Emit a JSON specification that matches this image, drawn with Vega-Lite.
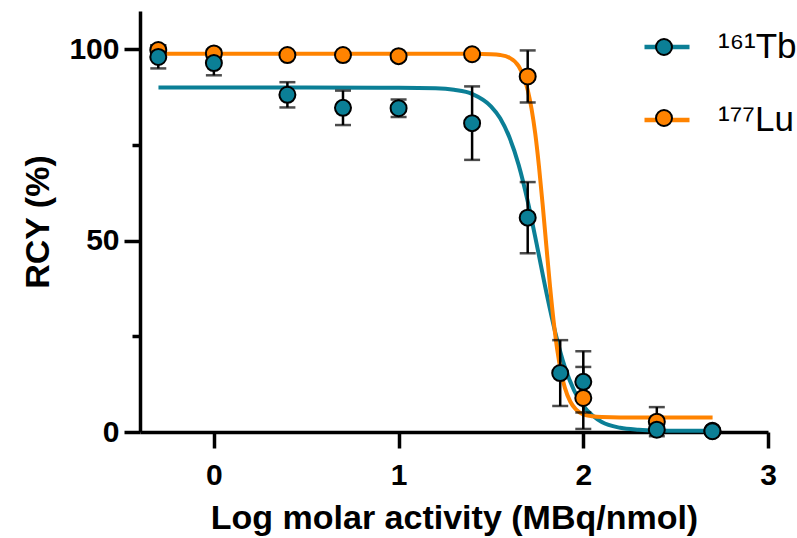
{
  "$schema": "https://vega.github.io/schema/vega-lite/v6.json",
  "autosize": "none",
  "width": 628,
  "height": 421,
  "padding": {"left": 140, "top": 11, "right": 29, "bottom": 106},
  "background": "white",
  "config": {
    "font": "Liberation Sans",
    "view": {"stroke": null},
    "axis": {"grid": false, "domainColor": "black", "tickColor": "black", "labelColor": "black", "titleColor": "black"}
  },
  "datasets": {
    "curves": [
      {"series": "¹⁶¹Tb", "x": -0.3, "y": 90.0},
      {"series": "¹⁶¹Tb", "x": 0.5, "y": 90.0},
      {"series": "¹⁶¹Tb", "x": 1.0, "y": 89.95},
      {"series": "¹⁶¹Tb", "x": 1.2, "y": 89.8},
      {"series": "¹⁶¹Tb", "x": 1.3, "y": 89.4},
      {"series": "¹⁶¹Tb", "x": 1.4, "y": 88.3},
      {"series": "¹⁶¹Tb", "x": 1.5, "y": 85.1},
      {"series": "¹⁶¹Tb", "x": 1.55, "y": 82.0},
      {"series": "¹⁶¹Tb", "x": 1.6, "y": 77.0},
      {"series": "¹⁶¹Tb", "x": 1.65, "y": 69.8},
      {"series": "¹⁶¹Tb", "x": 1.7, "y": 60.1},
      {"series": "¹⁶¹Tb", "x": 1.75, "y": 48.5},
      {"series": "¹⁶¹Tb", "x": 1.8, "y": 36.5},
      {"series": "¹⁶¹Tb", "x": 1.85, "y": 25.7},
      {"series": "¹⁶¹Tb", "x": 1.9, "y": 17.0},
      {"series": "¹⁶¹Tb", "x": 1.95, "y": 10.9},
      {"series": "¹⁶¹Tb", "x": 2.0, "y": 6.8},
      {"series": "¹⁶¹Tb", "x": 2.05, "y": 4.3},
      {"series": "¹⁶¹Tb", "x": 2.1, "y": 2.6},
      {"series": "¹⁶¹Tb", "x": 2.2, "y": 1.1},
      {"series": "¹⁶¹Tb", "x": 2.3, "y": 0.6},
      {"series": "¹⁶¹Tb", "x": 2.4, "y": 0.4},
      {"series": "¹⁶¹Tb", "x": 2.55, "y": 0.32},
      {"series": "¹⁶¹Tb", "x": 2.7, "y": 0.3},
      {"series": "¹⁷⁷Lu", "x": -0.3, "y": 98.8},
      {"series": "¹⁷⁷Lu", "x": 1.4, "y": 98.8},
      {"series": "¹⁷⁷Lu", "x": 1.5, "y": 98.7},
      {"series": "¹⁷⁷Lu", "x": 1.55, "y": 98.5},
      {"series": "¹⁷⁷Lu", "x": 1.6, "y": 97.8},
      {"series": "¹⁷⁷Lu", "x": 1.65, "y": 95.6},
      {"series": "¹⁷⁷Lu", "x": 1.68, "y": 92.5},
      {"series": "¹⁷⁷Lu", "x": 1.7, "y": 89.2},
      {"series": "¹⁷⁷Lu", "x": 1.72, "y": 84.4},
      {"series": "¹⁷⁷Lu", "x": 1.74, "y": 77.9},
      {"series": "¹⁷⁷Lu", "x": 1.76, "y": 69.4},
      {"series": "¹⁷⁷Lu", "x": 1.78, "y": 59.4},
      {"series": "¹⁷⁷Lu", "x": 1.8, "y": 48.6},
      {"series": "¹⁷⁷Lu", "x": 1.82, "y": 38.0},
      {"series": "¹⁷⁷Lu", "x": 1.84, "y": 28.7},
      {"series": "¹⁷⁷Lu", "x": 1.86, "y": 21.2},
      {"series": "¹⁷⁷Lu", "x": 1.88, "y": 15.6},
      {"series": "¹⁷⁷Lu", "x": 1.9, "y": 11.6},
      {"series": "¹⁷⁷Lu", "x": 1.93, "y": 7.9},
      {"series": "¹⁷⁷Lu", "x": 1.96, "y": 5.9},
      {"series": "¹⁷⁷Lu", "x": 2.0, "y": 4.6},
      {"series": "¹⁷⁷Lu", "x": 2.05, "y": 4.1},
      {"series": "¹⁷⁷Lu", "x": 2.1, "y": 3.9},
      {"series": "¹⁷⁷Lu", "x": 2.2, "y": 3.8},
      {"series": "¹⁷⁷Lu", "x": 2.7, "y": 3.8}
    ],
    "points": [
      {"series": "¹⁷⁷Lu", "x": -0.301, "rcy": 99.8, "sd": 1.2},
      {"series": "¹⁷⁷Lu", "x": 0, "rcy": 98.9, "sd": 1.0},
      {"series": "¹⁷⁷Lu", "x": 0.398, "rcy": 98.5, "sd": 0.4},
      {"series": "¹⁷⁷Lu", "x": 0.699, "rcy": 98.5, "sd": 0.4},
      {"series": "¹⁷⁷Lu", "x": 1, "rcy": 98.2, "sd": 0.4},
      {"series": "¹⁷⁷Lu", "x": 1.398, "rcy": 98.7, "sd": 0.4},
      {"series": "¹⁷⁷Lu", "x": 1.699, "rcy": 92.9, "sd": 6.8},
      {"series": "¹⁷⁷Lu", "x": 2, "rcy": 8.9, "sd": 8.1},
      {"series": "¹⁷⁷Lu", "x": 2.398, "rcy": 2.7, "sd": 3.8},
      {"series": "¹⁷⁷Lu", "x": 2.699, "rcy": 0.3, "sd": 0.2},
      {"series": "¹⁶¹Tb", "x": -0.301, "rcy": 98.0, "sd": 3.0},
      {"series": "¹⁶¹Tb", "x": 0, "rcy": 96.4, "sd": 3.2},
      {"series": "¹⁶¹Tb", "x": 0.398, "rcy": 88.1, "sd": 3.3},
      {"series": "¹⁶¹Tb", "x": 0.699, "rcy": 84.7, "sd": 4.5},
      {"series": "¹⁶¹Tb", "x": 1, "rcy": 84.6, "sd": 2.3},
      {"series": "¹⁶¹Tb", "x": 1.398, "rcy": 80.7, "sd": 9.6},
      {"series": "¹⁶¹Tb", "x": 1.699, "rcy": 56.0, "sd": 9.3},
      {"series": "¹⁶¹Tb", "x": 1.875, "rcy": 15.4, "sd": 8.6},
      {"series": "¹⁶¹Tb", "x": 2, "rcy": 13.1, "sd": 8.0},
      {"series": "¹⁶¹Tb", "x": 2.398, "rcy": 0.6, "sd": 0.3},
      {"series": "¹⁶¹Tb", "x": 2.699, "rcy": 0.2, "sd": 0.2}
    ]
  },
  "resolve": {"axis": {"y": "independent"}},
  "layer": [
    {
      "data": {"name": "curves"},
      "mark": {"type": "line", "strokeWidth": 4, "interpolate": "monotone", "clip": false},
      "encoding": {
        "x": {
          "field": "x", "type": "quantitative",
          "scale": {"domain": [-0.4, 3], "nice": false, "zero": false},
          "axis": {
            "values": [0, 1, 2, 3], "format": "d", "tickSize": 16, "tickWidth": 3.5, "domainWidth": 3.5,
            "labelFontSize": 30, "labelFontWeight": "bold", "labelPadding": 12, "labelFlush": false,
            "title": "Log molar activity (MBq/nmol)", "titleFontSize": 34, "titleFontWeight": "bold", "titlePadding": 11
          }
        },
        "y": {
          "field": "y", "type": "quantitative",
          "scale": {"domain": [0, 110], "nice": false},
          "axis": {
            "orient": "left", "values": [0, 50, 100], "tickSize": 16, "tickWidth": 3.5, "domainWidth": 3.5,
            "labelFontSize": 30, "labelFontWeight": "bold", "labelPadding": 5,
            "title": "RCY (%)", "titleFontSize": 34, "titleFontWeight": "bold", "titlePadding": 13
          }
        },
        "stroke": {
          "field": "series", "type": "nominal",
          "scale": {"range": ["#0b7f96", "#ff8300"]},
          "legend": {
            "orient": "none", "legendX": 502, "legendY": 11, "title": null, "padding": 0,
            "symbolType": "stroke", "symbolSize": 2025, "symbolStrokeWidth": 4.5,
            "labelFontSize": 35, "labelColor": "black", "labelOffset": 26, "rowPadding": 30
          }
        },
        "detail": {"field": "series"}
      }
    },
    {
      "data": {"name": "points"},
      "mark": {"type": "errorbar", "color": "black", "ticks": {"size": 16, "thickness": 2.5, "color": "black"}, "rule": {"strokeWidth": 2.5, "color": "black"}, "clip": false},
      "encoding": {
        "x": {"field": "x", "type": "quantitative"},
        "y": {"field": "rcy", "type": "quantitative", "axis": null},
        "yError": {"field": "sd"}
      }
    },
    {
      "data": {"name": "points"},
      "mark": {"type": "point", "filled": true, "size": 256, "stroke": "black", "strokeWidth": 2, "opacity": 1, "clip": false},
      "encoding": {
        "x": {"field": "x", "type": "quantitative"},
        "y": {
          "field": "rcy", "type": "quantitative",
          "axis": {"orient": "left", "values": [25, 75], "tickSize": 8, "tickWidth": 3.5, "domain": false, "labels": false, "title": null}
        },
        "fill": {
          "field": "series", "type": "nominal",
          "scale": {"range": ["#0b7f96", "#ff8300"]},
          "legend": {
            "orient": "none", "legendX": 515, "legendY": 27, "title": null, "padding": 0,
            "symbolType": "circle", "symbolSize": 256, "symbolStrokeColor": "black", "symbolStrokeWidth": 2, "symbolOpacity": 1,
            "labelFontSize": 1, "labelColor": "transparent", "rowPadding": 47
          }
        },
        "order": {"field": "series", "sort": "descending"}
      }
    }
  ]
}
